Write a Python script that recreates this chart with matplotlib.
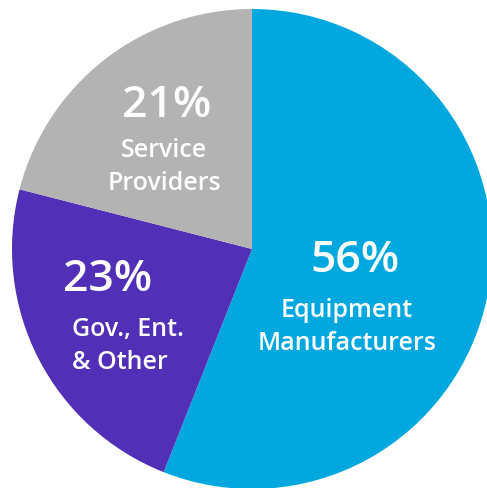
import matplotlib
matplotlib.use("Agg")
import matplotlib.pyplot as plt

# Share of market by segment
segments = ["Equipment\nManufacturers", "Gov., Ent.\n& Other", "Service\nProviders"]
shares = [56, 23, 21]
colors = ["#00A8DF", "#512FB6", "#B3B3B3"]

W, H = 487, 489
fig = plt.figure(figsize=(W / 100, H / 100), dpi=100)
ax = fig.add_axes([0, 0, 1, 1])

cx, cy, r = 252, H - 250, 240
ax.pie(shares, colors=colors, startangle=90, counterclock=False,
       center=(cx, cy), radius=r, frame=True,
       wedgeprops=dict(linewidth=0))
ax.set_xlim(0, W)
ax.set_ylim(0, H)
ax.set_aspect("equal")
ax.axis("off")

font = ["Open Sans", "DejaVu Sans"]
pct_size = 32
lab_size = 18
txt = dict(color="white", family=font, fontweight="semibold", va="center")

# Equipment Manufacturers
ax.text(355, H - 261, f"{shares[0]}%", fontsize=pct_size, ha="center", **txt)
ax.text(347, H - 327, segments[0], fontsize=lab_size, ha="center",
        linespacing=1.4, **txt)

# Gov., Ent. & Other
ax.text(63, H - 280, f"{shares[1]}%", fontsize=pct_size, ha="left", **txt)
ax.text(72, H - 346, segments[1], fontsize=lab_size, ha="left",
        linespacing=1.4, **txt)

# Service Providers
ax.text(167, H - 106, f"{shares[2]}%", fontsize=pct_size, ha="center", **txt)
ax.text(164, H - 167, segments[2], fontsize=lab_size, ha="center",
        linespacing=1.4, **txt)

fig.savefig("out.png", dpi=100, facecolor="white")
